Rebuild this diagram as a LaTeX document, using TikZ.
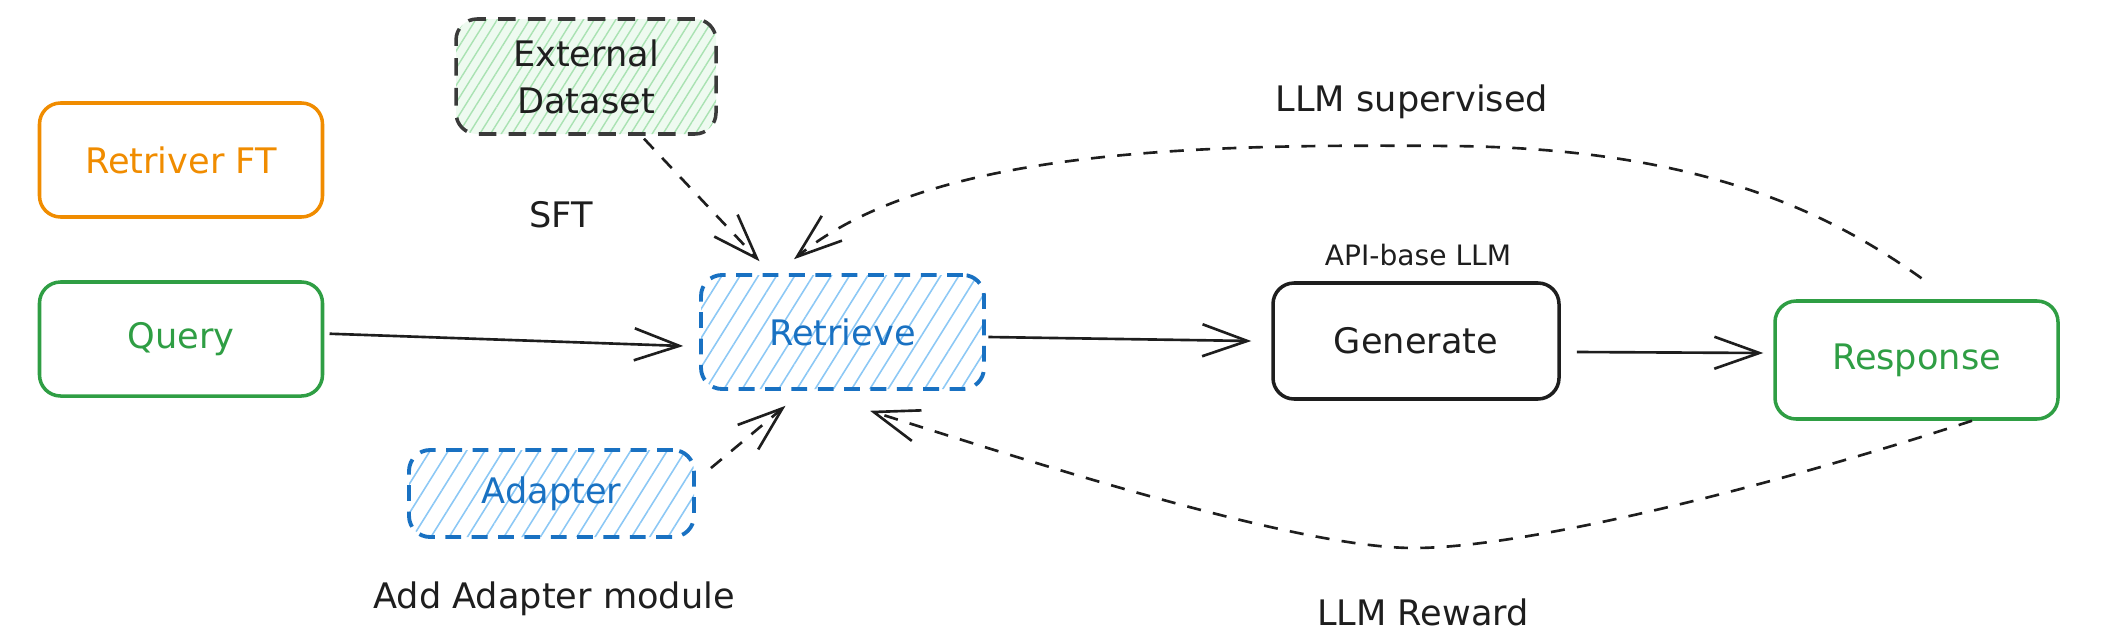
\documentclass[tikz,border=0pt]{standalone}
\usepackage{fontspec}
\setmainfont{DejaVu Sans}
\usetikzlibrary{arrows.meta,patterns.meta}
\definecolor{inkgray}{HTML}{1E1E1E}
\definecolor{dashgray}{HTML}{3A3A3A}
\definecolor{skyblue}{HTML}{1971C2}
\definecolor{hatchblue}{HTML}{8CC8F5}
\definecolor{leafgreen}{HTML}{2F9E44}
\definecolor{hatchgreen}{HTML}{A9E2B2}
\definecolor{mintfill}{HTML}{EEFAF0}
\definecolor{ambertone}{HTML}{F08C00}

\begin{document}
\begin{tikzpicture}[
    box/.style={draw, rounded corners=6pt, line width=1pt, minimum width=2.83cm,
        minimum height=1.14cm, font=\fontsize{10}{13.4}\selectfont},
    hatchbox/.style={box, line width=1.1pt, dash pattern=on 4.5pt off 3pt, pattern color=hatchblue,
        pattern={Lines[angle=58,distance=4.4pt,line width=0.45pt]}},
    lbl/.style={font=\fontsize{10}{12}\selectfont, text=inkgray},
    link/.style={inkgray, line width=0.75pt, -{Straight Barb[length=4.5mm,width=3.2mm]}},
    dlink/.style={link, dash pattern=on 4pt off 3.5pt},
]
    \useasboundingbox (0,0) rectangle (21.05,6.43);

    % boxes
    \node[box, draw=ambertone, text=ambertone] (rft) at (1.81,4.83) {Retriver FT};
    \node[box, draw=leafgreen, text=leafgreen] (q) at (1.81,3.04) {Query};
    \node[box, draw=dashgray, dash pattern=on 5pt off 3.5pt, preaction={fill=mintfill},
        pattern color=hatchgreen, pattern={Lines[angle=58,distance=2.6pt,line width=0.4pt]},
        minimum width=2.6cm, minimum height=1.15cm, align=center, text=inkgray]
        (ext) at (5.86,5.665) {External\\Dataset};
    \node[hatchbox, draw=skyblue, text=skyblue] (ret) at (8.425,3.11) {Retrieve};
    \node[hatchbox, draw=skyblue, text=skyblue, minimum width=2.85cm, minimum height=0.87cm]
        (adp) at (5.515,1.495) {Adapter};
    \node[box, draw=inkgray, text=inkgray, minimum width=2.86cm, minimum height=1.16cm]
        (gen) at (14.16,3.02) {Generate};
    \node[box, draw=leafgreen, text=leafgreen, minimum height=1.18cm]
        (resp) at (19.165,2.83) {Response};

    % labels
    \node[lbl] (sft) at (5.61,4.28) {SFT};
    \node[lbl] (addlbl) at (5.54,0.44) {Add Adapter module};
    \node[lbl, font=\fontsize{8}{10}\selectfont] (apilbl) at (14.18,3.88) {API-base LLM};
    \node[lbl] (suplbl) at (14.12,5.41) {LLM supervised};
    \node[lbl] (rewlbl) at (14.23,0.31) {LLM Reward};

    % main flow
    \draw[link] ([xshift=1.5pt,yshift=1.5pt]q.east) -- ([xshift=-0.17cm,yshift=-0.14cm]ret.west);
    \draw[link] ([xshift=1pt,yshift=-0.05cm]ret.east) -- ([xshift=-0.2cm]gen.west);
    \draw[link] ([xshift=0.16cm,yshift=-0.11cm]gen.east) -- ([xshift=-0.1cm,yshift=0.07cm]resp.west);

    % dashed feeds
    \draw[dlink] ([xshift=0.58cm,yshift=-0.04cm]ext.south) -- ([xshift=-0.83cm,yshift=0.13cm]ret.north);
    \draw[dlink] ([xshift=0.15cm,yshift=-0.2cm]adp.north east) -- ([xshift=-0.57cm,yshift=-0.16cm]ret.south);

    % feedback loops
    \draw[dlink] ([xshift=0.05cm,yshift=0.21cm]resp.north)
        .. controls (18.3,4.3) and (17.0,4.95) .. (14.5,4.97)
        .. controls (12.0,4.99) and (9.3,4.95) .. ([xshift=-0.485cm,yshift=0.15cm]ret.north);
    \draw[dlink] ([xshift=0.555cm]resp.south)
        .. controls (17.5,1.5) and (15.2,0.95) .. (14.14,0.95)
        .. controls (13.0,0.95) and (10.5,1.75) .. ([xshift=0.275cm,yshift=-0.21cm]ret.south);
\end{tikzpicture}
\end{document}
